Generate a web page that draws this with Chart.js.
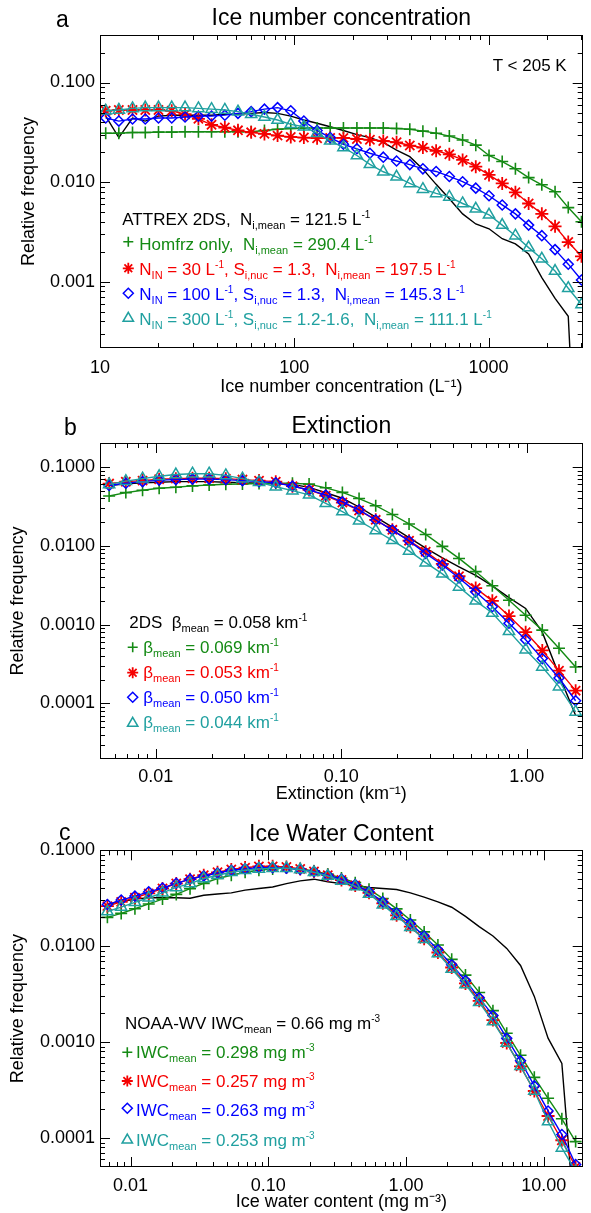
<!DOCTYPE html>
<html><head><meta charset="utf-8">
<script src="https://cdn.jsdelivr.net/npm/chart.js@4.4.1/dist/chart.umd.min.js"></script>
<style>
html,body{margin:0;padding:0;background:#fff;}
body{width:591px;height:1213px;position:relative;overflow:hidden;font-family:"Liberation Sans",Arial,Helvetica,sans-serif;}
.panel{position:absolute;left:0;width:591px;}
canvas{display:block;}
.t{position:absolute;white-space:nowrap;font-size:17px;line-height:20px;}
.t sub{font-size:11px;vertical-align:-4px;line-height:0;}
.t sup{font-size:10px;vertical-align:7px;line-height:0;}
.lett{position:absolute;font-size:23px;line-height:28px;color:#000;}
.k{color:#000}.g{color:rgb(20,138,20)}.r{color:rgb(245,0,0)}.b{color:rgb(0,0,255)}.c{color:rgb(32,160,160)}
</style></head>
<body>
<div class="panel" style="top:0"><canvas id="ca" width="591" height="400"></canvas></div>
<div class="panel" style="top:400px"><canvas id="cb" width="591" height="405"></canvas></div>
<div class="panel" style="top:805px"><canvas id="cc" width="591" height="408"></canvas></div>

<div class="lett" style="left:56px;top:4.7px">a</div>
<div class="lett" style="left:64px;top:413px">b</div>
<div class="lett" style="left:59px;top:818px">c</div>

<div class="t k" style="right:24.3px;top:55.8px">T &lt; 205 K</div>
<div class="t k" style="left:122.3px;top:209.6px">ATTREX 2DS,&nbsp; N<sub>i,mean</sub> = 121.5 L<sup>-1</sup></div>
<div class="t g" style="left:139.3px;top:235.1px">Homfrz only,&nbsp; N<sub>i,mean</sub> = 290.4 L<sup>-1</sup></div>
<div class="t r" style="left:139.3px;top:260.1px">N<sub>IN</sub> = 30 L<sup>-1</sup>, S<sub>i,nuc</sub> = 1.3,&nbsp; N<sub>i,mean</sub> = 197.5 L<sup>-1</sup></div>
<div class="t b" style="left:139.3px;top:285.1px">N<sub>IN</sub> = 100 L<sup>-1</sup>, S<sub>i,nuc</sub> = 1.3,&nbsp; N<sub>i,mean</sub> = 145.3 L<sup>-1</sup></div>
<div class="t c" style="left:139.3px;top:310.1px">N<sub>IN</sub> = 300 L<sup>-1</sup>, S<sub>i,nuc</sub> = 1.2-1.6,&nbsp; N<sub>i,mean</sub> = 111.1 L<sup>-1</sup></div>

<div class="t k" style="left:129.3px;top:613.4px">2DS&nbsp; β<sub>mean</sub> = 0.058 km<sup>-1</sup></div>
<div class="t g" style="left:143.3px;top:638.1px">β<sub>mean</sub> = 0.069 km<sup>-1</sup></div>
<div class="t r" style="left:143.3px;top:663.1px">β<sub>mean</sub> = 0.053 km<sup>-1</sup></div>
<div class="t b" style="left:143.3px;top:688.1px">β<sub>mean</sub> = 0.050 km<sup>-1</sup></div>
<div class="t c" style="left:143.3px;top:713.1px">β<sub>mean</sub> = 0.044 km<sup>-1</sup></div>

<div class="t k" style="left:125px;top:1014.1px">NOAA-WV IWC<sub>mean</sub> = 0.66 mg m<sup>-3</sup></div>
<div class="t g" style="left:136px;top:1043.4px">IWC<sub>mean</sub> = 0.298 mg m<sup>-3</sup></div>
<div class="t r" style="left:136px;top:1072.4px">IWC<sub>mean</sub> = 0.257 mg m<sup>-3</sup></div>
<div class="t b" style="left:136px;top:1101.4px">IWC<sub>mean</sub> = 0.263 mg m<sup>-3</sup></div>
<div class="t c" style="left:136px;top:1130.8px">IWC<sub>mean</sub> = 0.253 mg m<sup>-3</sup></div>

<script>
// ---------- Panel a: Ice number concentration ----------
const aX = [10.7,12.5,14.7,17.1,20.0,23.4,27.4,32.1,37.5,43.9,51.3,60.0,70.2,82.0,95.9,112,131,153,179,210,245,287,336,393,459,537,628,735,859,1005,1175,1374,1607,1879,2198,2570,3006];
const aATTREX = [0.046,0.028,0.044,0.041,0.046,0.047,0.047,0.047,0.047,0.048,0.048,0.049,0.050,0.049,0.046,0.042,0.039,0.036,0.033,0.030,0.028,0.025,0.021,0.018,0.0135,0.0095,0.0068,0.0048,0.0038,0.0034,0.0027,0.0024,0.0019,0.0011,0.00068,0.00045,0.000001];
const aHomfrz = [0.031,0.031,0.0315,0.0315,0.0318,0.0318,0.032,0.032,0.032,0.032,0.032,0.032,0.033,0.034,0.0345,0.035,0.035,0.035,0.035,0.035,0.035,0.035,0.0345,0.034,0.0325,0.031,0.029,0.0265,0.0235,0.0185,0.0161,0.0136,0.0111,0.0094,0.0080,0.00555,0.0040];
const aNin30 = [0.052,0.053,0.053,0.053,0.053,0.052,0.048,0.0432,0.0376,0.0353,0.0331,0.0316,0.0305,0.0293,0.0284,0.028,0.0276,0.0278,0.0278,0.0271,0.0266,0.0259,0.0251,0.0233,0.0222,0.0206,0.019,0.0167,0.0143,0.0118,0.0097,0.0079,0.0061,0.0048,0.0036,0.0025,0.0018];
const aNin100 = [0.044,0.041,0.043,0.043,0.044,0.044,0.045,0.046,0.046,0.047,0.049,0.051,0.054,0.056,0.052,0.041,0.033,0.028,0.024,0.0216,0.0195,0.0178,0.0163,0.015,0.0136,0.0128,0.0114,0.0101,0.0087,0.0073,0.0059,0.0048,0.0037,0.0029,0.0021,0.0015,0.00104];
const aNin300 = [0.052,0.053,0.055,0.056,0.056,0.056,0.056,0.055,0.054,0.053,0.051,0.048,0.045,0.042,0.038,0.036,0.031,0.026,0.0223,0.0185,0.0151,0.0127,0.0113,0.0097,0.0085,0.0077,0.0071,0.0061,0.0054,0.0047,0.0037,0.0029,0.0022,0.0017,0.00128,0.00086,0.00059];
const aXTicks = [10,100,1000];           const aXTickLabels = ['10','100','1000'];
const aYTicks = [0.001,0.01,0.1];       const aYTickLabels = ['0.001','0.010','0.100'];

// ---------- Panel b: Extinction ----------
const bX = [0.00560,0.00689,0.00848,0.01042,0.01282,0.01576,0.01938,0.02383,0.0293,0.0360,0.0443,0.0545,0.0670,0.0824,0.1013,0.1246,0.1532,0.1884,0.2317,0.2849,0.3503,0.4308,0.5298,0.6515,0.8011,0.9851,1.211,1.490,1.832];
const b2DS = [0.058,0.061,0.063,0.064,0.065,0.065,0.065,0.064,0.063,0.062,0.061,0.060,0.055,0.047,0.040,0.031,0.023,0.0172,0.0127,0.0093,0.0070,0.0054,0.0042,0.0031,0.0022,0.0016,0.0008,0.00023,0.00007];
const bHomfrz = [0.0428,0.0472,0.0506,0.0536,0.0552,0.0574,0.059,0.0603,0.0608,0.0614,0.062,0.062,0.0605,0.0543,0.0475,0.0397,0.0322,0.0249,0.0189,0.0139,0.0098,0.0069,0.0047,0.0031,0.00203,0.00131,0.00085,0.00050,0.00029];
const bNin30 = [0.0614,0.065,0.067,0.0697,0.071,0.0718,0.072,0.071,0.069,0.067,0.065,0.057,0.051,0.043,0.0353,0.028,0.0213,0.0159,0.0116,0.0084,0.0059,0.0041,0.0029,0.0020,0.00128,0.00080,0.00047,0.00026,0.000145];
const bNin100 = [0.058,0.062,0.065,0.068,0.069,0.070,0.070,0.069,0.067,0.065,0.063,0.057,0.051,0.044,0.036,0.0285,0.0212,0.0158,0.0115,0.0080,0.0057,0.0039,0.0026,0.00168,0.00104,0.00064,0.00037,0.00021,0.000108];
const bNin300 = [0.060,0.066,0.071,0.076,0.080,0.082,0.082,0.078,0.071,0.064,0.056,0.050,0.0442,0.0345,0.0271,0.0207,0.0156,0.0117,0.0086,0.0061,0.0044,0.0030,0.0020,0.0014,0.00082,0.00048,0.00029,0.000163,0.000078];
const bXTicks = [0.01,0.1,1];            const bXTickLabels = ['0.01','0.10','1.00'];
const bYTicks = [0.0001,0.001,0.01,0.1]; const bYTickLabels = ['0.0001','0.0010','0.0100','0.1000'];

// ---------- Panel c: Ice Water Content ----------
const cX = [0.00679,0.00855,0.01076,0.01355,0.01706,0.02148,0.02704,0.0340,0.0428,0.0539,0.0679,0.0855,0.1076,0.1355,0.1706,0.2148,0.2704,0.340,0.428,0.539,0.679,0.855,1.076,1.355,1.706,2.148,2.704,3.40,4.28,5.39,6.79,8.55,10.76,13.55,17.06];
const cNOAA = [0.0275,0.029,0.031,0.032,0.032,0.032,0.0316,0.034,0.035,0.036,0.0385,0.040,0.0415,0.045,0.048,0.050,0.047,0.045,0.043,0.041,0.040,0.039,0.036,0.0325,0.029,0.0255,0.0205,0.016,0.0128,0.0095,0.0063,0.0030,0.0011,0.0006,0.00001];
const cHomfrz = [0.0200,0.0220,0.0246,0.0276,0.0310,0.0347,0.0398,0.0452,0.0508,0.0550,0.0590,0.0620,0.0640,0.0655,0.0640,0.0610,0.0565,0.0515,0.0460,0.0392,0.0315,0.0245,0.0188,0.0141,0.0103,0.0073,0.0050,0.0033,0.00213,0.00124,0.00073,0.00043,0.00026,0.000159,0.000092];
const cNin30 = [0.0262,0.029,0.032,0.0355,0.040,0.045,0.050,0.055,0.059,0.063,0.066,0.068,0.068,0.067,0.064,0.060,0.055,0.049,0.043,0.036,0.028,0.021,0.016,0.012,0.0086,0.0060,0.0041,0.0027,0.0017,0.00098,0.00056,0.00031,0.00017,0.000095,0.000050];
const cNin100 = [0.0272,0.0303,0.0333,0.0369,0.0405,0.0453,0.050,0.054,0.058,0.062,0.064,0.066,0.066,0.065,0.063,0.060,0.055,0.050,0.044,0.037,0.029,0.0222,0.0172,0.0128,0.0092,0.0064,0.0044,0.0029,0.0019,0.0011,0.00064,0.00035,0.000192,0.000109,0.000053];
const cNin300 = [0.0230,0.0256,0.0287,0.032,0.036,0.041,0.045,0.0508,0.055,0.059,0.062,0.064,0.065,0.065,0.063,0.059,0.054,0.048,0.042,0.035,0.027,0.0205,0.0158,0.0118,0.0084,0.0058,0.0040,0.0026,0.00164,0.00098,0.00056,0.00031,0.000149,0.000079,0.000045];
const cXTicks = [0.01,0.1,1,10];         const cXTickLabels = ['0.01','0.10','1.00','10.00'];
const cYTicks = [0.0001,0.001,0.01,0.1]; const cYTickLabels = ['0.0001','0.0010','0.0100','0.1000'];

// ---------- styling ----------
const FONT = '"Liberation Sans", Arial, Helvetica, sans-serif';
const COL = {k:'#000000', g:'rgb(20,138,20)', r:'rgb(245,0,0)', b:'rgb(0,0,255)', c:'rgb(32,160,160)'};
const STY = {
  k:{style:false, r:0, bw:0, lw:1.4, order:5},
  g:{style:'cross', r:6, bw:1.6, lw:1.4, order:4},
  r:{style:'star', r:6.5, bw:1.8, lw:1.4, order:3},
  b:{style:'rectRot', r:5, bw:1.5, lw:1.4, order:2},
  c:{style:'triangle', r:6.5, bw:1.5, lw:1.4, order:1}
};

function logTickValues(min, max) {
  const out = [];
  const e0 = Math.floor(Math.log10(min)), e1 = Math.ceil(Math.log10(max));
  for (let e = e0; e <= e1; e++) for (let m = 1; m <= 9; m++) {
    const v = Number((m * Math.pow(10, e)).toPrecision(6));
    if (v >= min * 0.99999 && v <= max * 1.00001) out.push(v);
  }
  return out;
}
function isMajor(v) { const l = Math.log10(v); return Math.abs(l - Math.round(l)) < 1e-6; }
function labelFor(v, majors, labels) {
  const i = majors.findIndex(m => Math.abs(v / m - 1) < 1e-6);
  return i >= 0 ? labels[i] : '';
}
function drawSym(ctx, style, x, y, r) {
  ctx.beginPath();
  if (style === 'cross' || style === 'star') { ctx.moveTo(x - r, y); ctx.lineTo(x + r, y); ctx.moveTo(x, y - r); ctx.lineTo(x, y + r); }
  if (style === 'star') { const d = r * Math.SQRT1_2; ctx.moveTo(x - d, y - d); ctx.lineTo(x + d, y + d); ctx.moveTo(x - d, y + d); ctx.lineTo(x + d, y - d); }
  if (style === 'rectRot') { ctx.moveTo(x, y - r); ctx.lineTo(x + r, y); ctx.lineTo(x, y + r); ctx.lineTo(x - r, y); ctx.closePath(); }
  if (style === 'triangle') { ctx.moveTo(x, y - r); ctx.lineTo(x + r * 0.866, y + r * 0.5); ctx.lineTo(x - r * 0.866, y + r * 0.5); ctx.closePath(); }
  ctx.stroke();
}

const framePlugin = {
  id: 'frame',
  afterDraw(chart, args, opts) {
    const ctx = chart.ctx, a = chart.chartArea;
    ctx.save();
    ctx.strokeStyle = '#000'; ctx.lineWidth = 1;
    ctx.strokeRect(Math.round(a.left) + 0.5, Math.round(a.top) + 0.5, Math.round(a.right - a.left) - 1, Math.round(a.bottom - a.top) - 1);
    ctx.beginPath();
    const xs = chart.scales.x, ys = chart.scales.y;
    xs.ticks.forEach(t => {
      const px = Math.round(xs.getPixelForValue(t.value)) + 0.5;
      if (px < a.left || px > a.right) return;
      const L = isMajor(t.value) ? 10 : 5;
      ctx.moveTo(px, a.bottom); ctx.lineTo(px, a.bottom - L);
      ctx.moveTo(px, a.top); ctx.lineTo(px, a.top + L);
    });
    ys.ticks.forEach(t => {
      const py = Math.round(ys.getPixelForValue(t.value)) + 0.5;
      if (py < a.top || py > a.bottom) return;
      const L = isMajor(t.value) ? 10 : 5;
      ctx.moveTo(a.left, py); ctx.lineTo(a.left + L, py);
      ctx.moveTo(a.right, py); ctx.lineTo(a.right - L, py);
    });
    ctx.stroke();
    (opts.symbols || []).forEach(s => {
      const st = STY[s.key];
      ctx.strokeStyle = COL[s.key]; ctx.lineWidth = st.bw;
      drawSym(ctx, st.style, s.x, s.y, s.r || st.r);
    });
    ctx.restore();
  }
};

function makePanel(id, cfg) {
  const datasets = cfg.series.map(s => {
    const st = STY[s.key];
    return {
      label: s.label,
      data: cfg.x.map((x, i) => ({x: x, y: s.y[i]})),
      showLine: true, tension: 0, clip: 0, order: st.order,
      borderColor: COL[s.key], borderWidth: st.lw, backgroundColor: 'rgba(0,0,0,0)',
      pointStyle: st.style, pointRadius: st.r, pointHoverRadius: st.r,
      pointBorderWidth: st.bw, pointBorderColor: COL[s.key], pointBackgroundColor: 'rgba(0,0,0,0)'
    };
  });
  const tickFont = {family: FONT, size: 18};
  new Chart(document.getElementById(id), {
    type: 'scatter',
    data: {datasets},
    options: {
      responsive: false, animation: false, devicePixelRatio: 1,
      events: [],
      layout: {padding: {left: 0, right: 5, top: 0, bottom: 0}},
      plugins: {
        legend: {display: false}, tooltip: {enabled: false},
        title: {display: true, text: cfg.title, fullSize: false, color: '#000',
          font: {family: FONT, size: 23, weight: 'normal'},
          padding: {top: cfg.tPadTop, bottom: cfg.tPadBot}},
        frame: {symbols: cfg.symbols}
      },
      scales: {
        x: {
          type: 'logarithmic', position: 'bottom', min: cfg.xMin, max: cfg.xMax,
          afterBuildTicks: sc => { sc.ticks = logTickValues(cfg.xMin, cfg.xMax).map(v => ({value: v})); },
          afterFit: sc => { sc.height = cfg.xBoxH; },
          grid: {display: false, drawTicks: false}, border: {display: false},
          ticks: {autoSkip: false, maxRotation: 0, minRotation: 0, padding: cfg.xTickPad, color: '#000', font: tickFont,
            callback: v => labelFor(v, cfg.xTicks, cfg.xLabels)},
          title: {display: true, text: cfg.xTitle, color: '#000', font: tickFont, padding: {top: 0, bottom: cfg.xTitlePad}}
        },
        y: {
          type: 'logarithmic', position: 'left', min: cfg.yMin, max: cfg.yMax,
          afterBuildTicks: sc => { sc.ticks = logTickValues(cfg.yMin, cfg.yMax).map(v => ({value: v})); },
          afterFit: sc => { sc.width = 100; },
          grid: {display: false, drawTicks: false}, border: {display: false},
          ticks: {autoSkip: false, padding: 5, color: '#000', font: tickFont,
            callback: v => labelFor(v, cfg.yTicks, cfg.yLabels)},
          title: {display: true, text: 'Relative frequency', color: '#000', font: tickFont, padding: {top: cfg.yTitlePad, bottom: 0}}
        }
      }
    },
    plugins: [framePlugin]
  });
}

makePanel('ca', {
  title: 'Ice number concentration', tPadTop: 4.8, tPadBot: 2.6,
  x: aX, xMin: 10, xMax: 3050, yMin: 2.16e-4, yMax: 0.30,
  xTicks: aXTicks, xLabels: aXTickLabels, yTicks: aYTicks, yLabels: aYTickLabels,
  xTitle: 'Ice number concentration (L⁻¹)', xBoxH: 52, xTickPad: 9.5, xTitlePad: 1.7, yTitlePad: 18,
  series: [
    {key: 'k', label: 'ATTREX 2DS', y: aATTREX},
    {key: 'g', label: 'Homfrz only', y: aHomfrz},
    {key: 'r', label: 'NIN = 30', y: aNin30},
    {key: 'b', label: 'NIN = 100', y: aNin100},
    {key: 'c', label: 'NIN = 300', y: aNin300}
  ],
  symbols: [{key: 'g', x: 128.3, y: 241.7, r: 5}, {key: 'r', x: 128.3, y: 268.3, r: 5.5}, {key: 'b', x: 128.3, y: 293.3, r: 5}, {key: 'c', x: 128.3, y: 318.3, r: 6}]
});

makePanel('cb', {
  title: 'Extinction', tPadTop: 12.9, tPadBot: 2.5,
  x: bX, xMin: 0.005, xMax: 2.0, yMin: 1.97e-5, yMax: 0.201,
  xTicks: bXTicks, xLabels: bXTickLabels, yTicks: bYTicks, yLabels: bYTickLabels,
  xTitle: 'Extinction (km⁻¹)', xBoxH: 46, xTickPad: 6.9, xTitlePad: 0, yTitlePad: 7,
  series: [
    {key: 'k', label: '2DS', y: b2DS},
    {key: 'g', label: 'Homfrz', y: bHomfrz},
    {key: 'r', label: 'NIN = 30', y: bNin30},
    {key: 'b', label: 'NIN = 100', y: bNin100},
    {key: 'c', label: 'NIN = 300', y: bNin300}
  ],
  symbols: [{key: 'g', x: 132.7, y: 247.3, r: 5}, {key: 'r', x: 132.7, y: 272.7, r: 5.5}, {key: 'b', x: 132.7, y: 297.3, r: 5}, {key: 'c', x: 132.7, y: 323.3, r: 6}]
});

makePanel('cc', {
  title: 'Ice Water Content', tPadTop: 15.4, tPadBot: 2.3,
  x: cX, xMin: 0.006, xMax: 19.2, yMin: 5.0e-5, yMax: 0.1,
  xTicks: cXTicks, xLabels: cXTickLabels, yTicks: cYTicks, yLabels: cYTickLabels,
  xTitle: 'Ice water content (mg m⁻³)', xBoxH: 46, xTickPad: 8.5, xTitlePad: 0.2, yTitlePad: 7,
  series: [
    {key: 'k', label: 'NOAA-WV', y: cNOAA},
    {key: 'g', label: 'Homfrz', y: cHomfrz},
    {key: 'r', label: 'NIN = 30', y: cNin30},
    {key: 'b', label: 'NIN = 100', y: cNin100},
    {key: 'c', label: 'NIN = 300', y: cNin300}
  ],
  symbols: [{key: 'g', x: 127.3, y: 247.3, r: 5}, {key: 'r', x: 127.3, y: 276, r: 5.5}, {key: 'b', x: 127.3, y: 303.3, r: 5}, {key: 'c', x: 127.3, y: 335, r: 6}]
});
</script>
</body></html>
